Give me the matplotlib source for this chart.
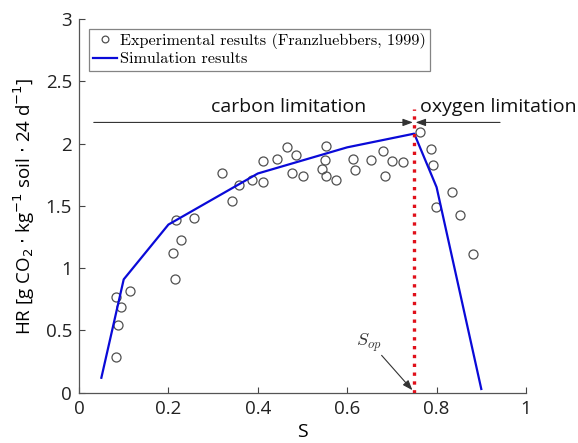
import matplotlib
matplotlib.use("Agg")
import matplotlib.pyplot as plt
import numpy as np

# Experimental results (Franzluebbers, 1999)
exp_S = [0.082, 0.093, 0.087, 0.082, 0.115, 0.211, 0.228, 0.214,
         0.216, 0.257, 0.321, 0.342, 0.359, 0.386, 0.411, 0.411,
         0.443, 0.466, 0.486, 0.476, 0.502, 0.553, 0.550, 0.543,
         0.552, 0.575, 0.614, 0.618, 0.653, 0.680, 0.700, 0.685,
         0.725, 0.762, 0.787, 0.792, 0.835, 0.799, 0.853, 0.882]
exp_HR = [0.77, 0.69, 0.54, 0.29, 0.82, 1.12, 1.23, 0.91,
          1.39, 1.40, 1.76, 1.54, 1.67, 1.71, 1.86, 1.69,
          1.88, 1.97, 1.91, 1.76, 1.74, 1.98, 1.87, 1.80,
          1.74, 1.71, 1.88, 1.79, 1.87, 1.94, 1.86, 1.74,
          1.85, 2.09, 1.96, 1.83, 1.61, 1.49, 1.43, 1.11]

# Simulation results
sim_S = [0.05, 0.10, 0.20, 0.40, 0.60, 0.75, 0.80, 0.90]
sim_HR = [0.12, 0.91, 1.35, 1.76, 1.97, 2.08, 1.65, 0.03]

S_op = 0.75

fig = plt.figure(figsize=(5.78, 4.43), dpi=100)
ax = fig.add_axes([0.1367, 0.1135, 0.910 - 0.1367, 0.957 - 0.1135])

tick_font = "Open Sans"

ax.plot(exp_S, exp_HR, 'o', ms=6.5, mfc='none', mec='#505050', mew=0.9,
        label='Experimental results (Franzluebbers, 1999)', zorder=3)
ax.plot(sim_S, sim_HR, '-', color='#0a0ad8', lw=1.6, label='Simulation results', zorder=4)

# S_op vertical line
ax.plot([S_op, S_op], [0, 2.28], ':', color='#e0101a', lw=2.4, zorder=5)

# limitation arrows
arr = dict(arrowstyle='-|>,head_length=0.6,head_width=0.22', color='#333333', lw=0.8,
           shrinkA=0, shrinkB=0)
ax.annotate('', xy=(0.747, 2.17), xytext=(0.033, 2.17), arrowprops=arr)
ax.annotate('', xy=(0.753, 2.17), xytext=(0.942, 2.17), arrowprops=arr)

ax.text(0.47, 2.29, 'carbon limitation', ha='center', va='center',
        fontsize=14, family=tick_font, color='#111111')
ax.text(0.762, 2.29, 'oxygen limitation', ha='left', va='center',
        fontsize=14, family=tick_font, color='#111111', clip_on=False)

ax.text(0.648, 0.40, r'$S_{op}$', ha='center', va='center', fontsize=13,
        math_fontfamily='cm', color='#333333')
ax.annotate('', xy=(0.746, 0.02), xytext=(0.677, 0.30), arrowprops=arr)

ax.set_xlim(0, 1)
ax.set_ylim(0, 3)
ax.set_xticks([0, 0.2, 0.4, 0.6, 0.8, 1])
ax.set_xticklabels(['0', '0.2', '0.4', '0.6', '0.8', '1'])
ax.set_yticks([0, 0.5, 1, 1.5, 2, 2.5, 3])
ax.set_yticklabels(['0', '0.5', '1', '1.5', '2', '2.5', '3'])
ax.tick_params(direction='in', length=4, width=0.8, color='#444444',
               labelsize=13.5, pad=5)
for lab in ax.get_xticklabels() + ax.get_yticklabels():
    lab.set_family(tick_font)
    lab.set_color('#222222')
ax.spines['top'].set_visible(False)
ax.spines['right'].set_visible(False)
for s in ('left', 'bottom'):
    ax.spines[s].set_color('#555555')
    ax.spines[s].set_linewidth(0.9)

ax.set_xlabel('S', fontsize=14, family=tick_font, labelpad=4)
ax.set_ylabel(r'HR [g CO$_2$ $\cdot$ kg$^{-1}$ soil $\cdot$ 24 d$^{-1}$]',
              fontsize=13.5, family=tick_font, math_fontfamily='dejavusans', labelpad=6)

leg = ax.legend(loc='upper left', prop={'family': 'cmr10', 'size': 11.7},
                frameon=True, fancybox=False, edgecolor='#666666',
                handlelength=1.5, handletextpad=0.15, borderpad=0.25,
                labelspacing=0.2, borderaxespad=0.6, markerscale=0.75)
leg.get_frame().set_linewidth(0.9)

fig.savefig('out.png', dpi=100)
